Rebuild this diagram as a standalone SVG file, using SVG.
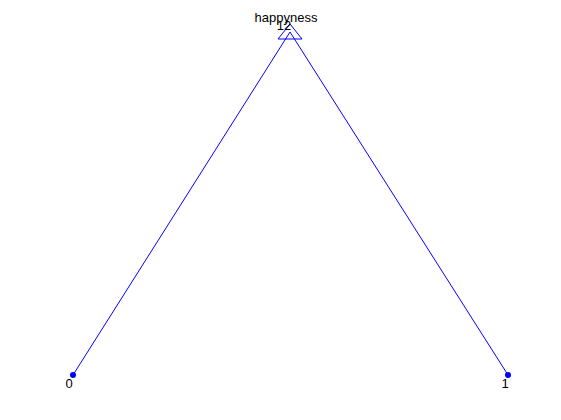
<svg xmlns="http://www.w3.org/2000/svg" width="561" height="420" viewBox="0 0 561 420">
<style>
.e{stroke:#0000ff;stroke-width:1;fill:none}
.t{font-family:"Liberation Sans",Arial,sans-serif;font-size:13px;fill:#000}
</style>
<rect width="561" height="420" fill="#fff"/>
<g id="connectors">
<line class="e" x1="290" y1="32" x2="73" y2="375"/>
<line class="e" x1="290" y1="32" x2="508" y2="375"/>
</g>
<g id="node-12">
<polygon points="290,24 302,39 278,39" fill="none" stroke="#0000ff"/>
<text class="t" x="286" y="22" text-anchor="middle">happyness</text>
<text class="t" x="284" y="30" text-anchor="middle">12</text>
</g>
<g id="node-0">
<circle cx="73" cy="375" r="3" fill="#0000ff"/>
<text class="t" x="69" y="388" text-anchor="middle">0</text>
</g>
<g id="node-1">
<circle cx="508" cy="375" r="3" fill="#0000ff"/>
<text class="t" x="505" y="388" text-anchor="middle">1</text>
</g>
</svg>
